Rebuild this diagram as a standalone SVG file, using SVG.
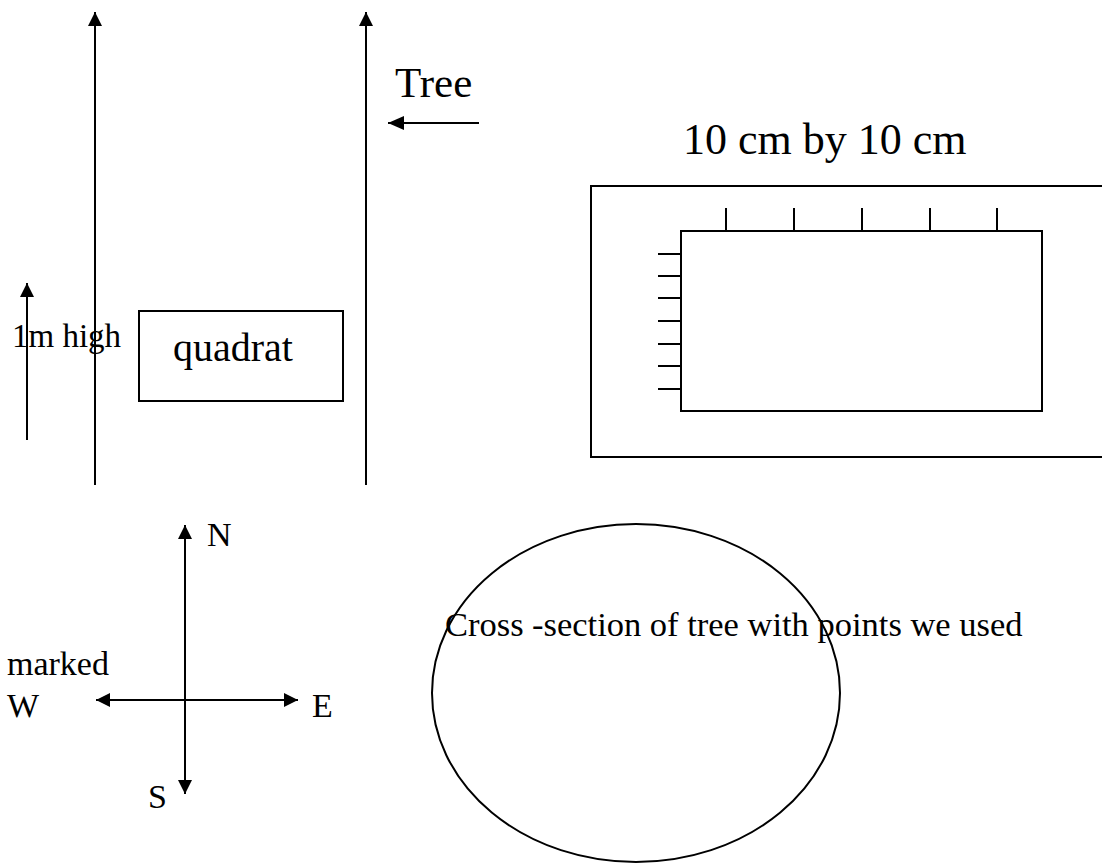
<svg xmlns="http://www.w3.org/2000/svg" width="1102" height="863" viewBox="0 0 1102 863">
<style>
.ln{stroke:#000;stroke-width:2;fill:none}
.bx{stroke:#000;stroke-width:2;fill:none}
.t{font-family:"Liberation Serif","Times New Roman",serif;fill:#000}
</style>
<defs>
<marker id="ah" markerUnits="userSpaceOnUse" markerWidth="14" markerHeight="14" refX="14" refY="7" orient="auto" viewBox="0 0 14 14">
<path d="M0,0 L14,7 L0,14 z" fill="#000"/>
</marker>
<marker id="ahl" markerUnits="userSpaceOnUse" markerWidth="16" markerHeight="14" refX="16" refY="7" orient="auto" viewBox="0 0 16 14">
<path d="M0,0 L16,7 L0,14 z" fill="#000"/>
</marker>
</defs>
<rect width="1102" height="863" fill="#fff"/>
<g id="connectors">
<line class="ln" x1="95" y1="485" x2="95" y2="12" marker-end="url(#ah)"/>
<line class="ln" x1="366" y1="485" x2="366" y2="12" marker-end="url(#ah)"/>
<line class="ln" x1="479" y1="123" x2="388" y2="123" marker-end="url(#ahl)"/>
<line class="ln" x1="27" y1="440" x2="27" y2="283" marker-end="url(#ah)"/>
<line class="ln" x1="185" y1="700" x2="185" y2="525" marker-end="url(#ah)"/>
<line class="ln" x1="185" y1="700" x2="185" y2="794" marker-end="url(#ah)"/>
<line class="ln" x1="185" y1="700" x2="96" y2="700" marker-end="url(#ah)"/>
<line class="ln" x1="185" y1="700" x2="298" y2="700" marker-end="url(#ah)"/>
</g>
<g id="tree-label">
<text class="t" x="395" y="97" font-size="43">Tree</text>
</g>
<g id="height-label">
<text class="t" x="12" y="347" font-size="33">1m high</text>
</g>
<g id="quadrat">
<rect class="bx" x="139" y="311" width="204" height="90"/>
<text class="t" x="173" y="361" font-size="40">quadrat</text>
</g>
<g id="grid-quadrat">
<text class="t" x="683" y="154" font-size="44">10 cm by 10 cm</text>
<rect class="bx" x="591" y="186" width="520" height="271"/>
<rect class="bx" x="681" y="231" width="361" height="180"/>
<g class="ln">
<line x1="726" y1="208" x2="726" y2="231"/>
<line x1="794" y1="208" x2="794" y2="231"/>
<line x1="862" y1="208" x2="862" y2="231"/>
<line x1="930" y1="208" x2="930" y2="231"/>
<line x1="997" y1="208" x2="997" y2="231"/>
<line x1="658" y1="254" x2="681" y2="254"/>
<line x1="658" y1="276" x2="681" y2="276"/>
<line x1="658" y1="298" x2="681" y2="298"/>
<line x1="658" y1="321" x2="681" y2="321"/>
<line x1="658" y1="344" x2="681" y2="344"/>
<line x1="658" y1="366" x2="681" y2="366"/>
<line x1="658" y1="389" x2="681" y2="389"/>
</g>
</g>
<g id="compass">
<text class="t" x="207" y="546" font-size="34">N</text>
<text class="t" x="312" y="717" font-size="34">E</text>
<text class="t" x="7" y="717" font-size="34">W</text>
<text class="t" x="7" y="675" font-size="34">marked</text>
<text class="t" x="148" y="808" font-size="34">S</text>
</g>
<g id="cross-section">
<ellipse class="bx" cx="636" cy="693" rx="204" ry="169"/>
<text class="t" x="445" y="636" font-size="34.5">Cross<tspan x="532">-section of tree with points we used</tspan></text>
</g>
</svg>
